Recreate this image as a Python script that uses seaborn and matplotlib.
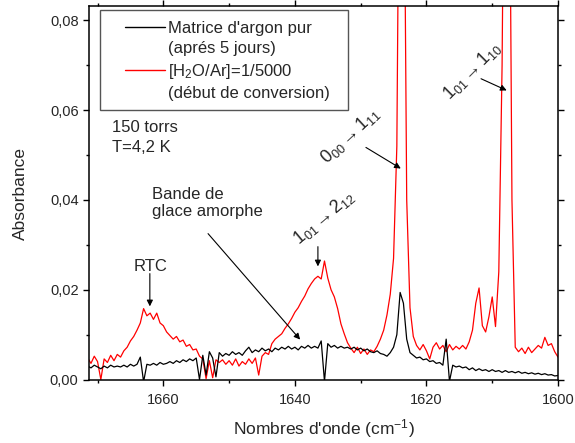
import numpy as np
import pandas as pd
import seaborn as sns
from matplotlib import pyplot as plt
from matplotlib.lines import Line2D
from matplotlib.patches import Rectangle
from matplotlib.ticker import MultipleLocator, FuncFormatter

# Wavenumber grid (cm-1), every 0.5 cm-1 from 1671.5 down to 1600
wavenumber = np.arange(1671.5, 1599.9, -0.5)

# Absorbance, in milli-absorbance units (x 1e-3)
argon_pur = [
    3.0, 2.6, 3.2, 2.8, 2.4, 3.0, 2.6, 3.2, 2.8, 3.0,
    2.8, 3.2, 2.8, 3.4, 3.0, 3.4, 5.0, -0.5, 3.4, 3.2,
    3.6, 3.2, 3.8, 3.4, 3.6, 4.0, 3.6, 4.2, 3.8, 4.4,
    4.0, 4.6, 4.2, 4.8, 0.0, 5.4, 1.0, 6.2, 4.8, 0.6,
    6.0, 5.2, 5.8, 5.4, 6.2, 5.6, 6.0, 5.4, 6.4, 7.2,
    6.0, 6.6, 6.2, 7.0, 6.4, 6.8, 6.2, 7.0, 6.6, 7.2,
    6.8, 7.4, 6.8, 7.2, 6.6, 7.4, 7.0, 7.6, 7.0, 7.4,
    7.0, 8.6, -0.4, 8.0, 7.2, 7.6, 7.0, 7.4, 7.0, 7.2,
    6.8, 7.2, 6.6, 7.0, 6.4, 6.8, 6.2, 6.0, 6.4, 5.8,
    5.6, 5.2, 6.0, 7.2, 10.0, 19.4, 17.0, 9.0, 6.0, 5.4,
    4.8, 5.0, 4.4, 4.6, 4.0, 4.2, 3.6, 3.8, 3.2, 9.0,
    -0.4, 3.2, 2.8, 3.0, 2.6, 2.8, 2.2, 2.6, 2.0, 2.4,
    2.0, 2.2, 1.8, 2.2, 1.8, 2.0, 1.6, 2.0, 1.6, 1.8,
    1.5, 1.8, 1.4, 1.6, 1.3, 1.5, 1.2, 1.4, 1.1, 1.3,
    1.0, 1.1, 0.8, 0.9,
]
h2o_ar = [
    4.8, 3.6, 5.2, 4.0, 0.0, 4.6, 3.8, 5.4, 4.2, 5.6,
    5.0, 6.4, 7.2, 8.6, 9.6, 11.0, 12.6, 15.8, 14.2, 14.8,
    13.4, 14.8, 12.6, 12.0, 10.6, 9.8, 9.0, 9.6, 8.4, 8.8,
    7.4, 7.8, 6.6, 6.8, 5.2, 4.6, 0.2, 4.2, 0.4, 4.4,
    3.8, 4.4, 3.4, 4.2, 3.2, 4.6, 3.0, 4.0, 3.4, 4.6,
    3.6, 4.8, 1.0, 5.2, 6.0, 5.6, 8.0, 9.0, 9.6, 10.2,
    11.4, 12.4, 13.6, 15.0, 16.0, 17.4, 18.6, 20.2, 21.4, 22.4,
    23.0, 22.4, 26.4, 22.6, 20.0, 18.4, 15.8, 12.4, 10.2, 8.2,
    7.0, 6.0, 7.2, 5.8, 6.8, 5.6, 6.6, 6.2, 7.4, 9.0,
    11.0, 14.4, 19.0, 27.0, 52.0, 150.0, 140.0, 40.0, 16.0, 9.6,
    7.6, 6.6, 7.8, 6.4, 4.6, 7.2, 8.2, 6.8, 7.6, 6.2,
    7.8, 6.6, 7.4, 6.8, 7.6, 6.8, 8.4, 11.0, 17.0, 20.4,
    12.0, 10.6, 14.0, 18.4, 11.8, 24.0, 70.0, 160.0, 150.0, 40.0,
    7.2, 6.2, 7.0, 5.8, 7.2, 6.0, 6.8, 7.6, 7.0, 9.4,
    7.6, 8.0, 6.2, 5.0,
]

legend_labels = ["Matrice d'argon pur", "(aprés 5 jours)",
                 "[H$_2$O/Ar]=1/5000", "(début de conversion)"]

df = pd.DataFrame({
    "wavenumber": np.concatenate([wavenumber, wavenumber]),
    "absorbance": np.concatenate([argon_pur, h2o_ar]) / 1000,
    "series": ["argon"] * len(wavenumber) + ["h2o"] * len(wavenumber),
})

sns.set_style("ticks")
plt.rcParams['font.family'] = ['Liberation Sans', 'DejaVu Sans']
plt.rcParams['mathtext.fontset'] = 'custom'
plt.rcParams['mathtext.rm'] = 'Liberation Sans'
plt.rcParams['mathtext.it'] = 'Liberation Sans:italic'
plt.rcParams['mathtext.bf'] = 'Liberation Sans:bold'
plt.rcParams['mathtext.default'] = 'regular'

fig = plt.figure(figsize=(5.75, 4.43), dpi=100)
ax = fig.add_axes([89 / 575, 63 / 443, 469 / 575, 374 / 443])

colors = {"argon": "black", "h2o": "#ff0000"}
sns.lineplot(data=df, x="wavenumber", y="absorbance", hue="series",
             hue_order=["h2o", "argon"], palette=colors, estimator=None,
             sort=False, lw=0.9, legend=False, ax=ax)

ax.set_xlim(1671.3, 1600)
ax.set_ylim(-0.0001, 0.0832)
ax.xaxis.set_major_locator(MultipleLocator(20))
ax.xaxis.set_minor_locator(MultipleLocator(10))
ax.yaxis.set_major_locator(MultipleLocator(0.02))
ax.yaxis.set_minor_locator(MultipleLocator(0.01))
ax.yaxis.set_major_formatter(FuncFormatter(lambda v, p: f"{v:.2f}".replace(".", ",")))
ax.xaxis.set_major_formatter(FuncFormatter(lambda v, p: f"{v:.0f}"))
ax.tick_params(which="both", direction="out", top=True, right=True,
               labeltop=False, labelright=False, width=1, color="black")
ax.tick_params(which="major", length=4.5, labelsize=10.5)
ax.tick_params(axis="x", which="major", pad=5)
ax.tick_params(axis="y", which="major", pad=3)
ax.tick_params(which="minor", length=2.5)
for sp in ax.spines.values():
    sp.set_linewidth(1.1)
    sp.set_color("black")

ax.set_xlabel("Nombres d'onde (cm$^{-1}$)", fontsize=12.5, labelpad=7)
ax.set_ylabel("Absorbance", fontsize=12.5, labelpad=16)

# legend: box drawn separately, two text lines per entry
ax.add_patch(Rectangle((0.0235, 0.722), 0.5285, 0.267, transform=ax.transAxes,
                       fill=False, edgecolor="#555555", lw=1.0, zorder=5))
handles = [Line2D([], [], color="black", lw=1), Line2D([], [], color="none"),
           Line2D([], [], color="#ff0000", lw=1), Line2D([], [], color="none")]
ax.legend(handles, legend_labels, loc="upper left", bbox_to_anchor=(0.0768, 0.96),
          frameon=False, fontsize=12, handlelength=2.4, handletextpad=0.2,
          borderpad=0, borderaxespad=0, labelspacing=0.33)

ax.text(1667.8, 0.0561, "150 torrs", fontsize=12, va="center", ha="left")
ax.text(1667.8, 0.0516, "T=4,2 K", fontsize=12, va="center", ha="left")

arrow = dict(arrowstyle="-|>", color="black", lw=0.8, mutation_scale=9,
             shrinkA=0, shrinkB=0)

ax.text(1661.9, 0.0252, "RTC", fontsize=12, ha="center", va="center")
ax.annotate("", xy=(1662.05, 0.0163), xytext=(1662.05, 0.0236), arrowprops=arrow)

ax.text(1661.75, 0.0393, "Bande de\nglace amorphe", fontsize=12, ha="left",
        va="center", linespacing=1.15)
ax.annotate("", xy=(1639.2, 0.0089), xytext=(1653.2, 0.0325), arrowprops=arrow)

ax.text(1635.6, 0.0361, r"$1_{01}\rightarrow 2_{12}$", fontsize=13, rotation=40,
        ha="center", va="center", rotation_mode="anchor")
ax.annotate("", xy=(1636.5, 0.0252), xytext=(1636.5, 0.0296), arrowprops=arrow)

ax.text(1631.6, 0.0543, r"$0_{00}\rightarrow 1_{11}$", fontsize=13, rotation=43,
        ha="center", va="center", rotation_mode="anchor")
ax.annotate("", xy=(1623.9, 0.0470), xytext=(1629.2, 0.0517), arrowprops=arrow)

ax.text(1613.1, 0.0688, r"$1_{01}\rightarrow 1_{10}$", fontsize=13, rotation=45,
        ha="center", va="center", rotation_mode="anchor")
ax.annotate("", xy=(1607.8, 0.0644), xytext=(1611.7, 0.0670), arrowprops=arrow)

fig.savefig("out.png", dpi=100)
